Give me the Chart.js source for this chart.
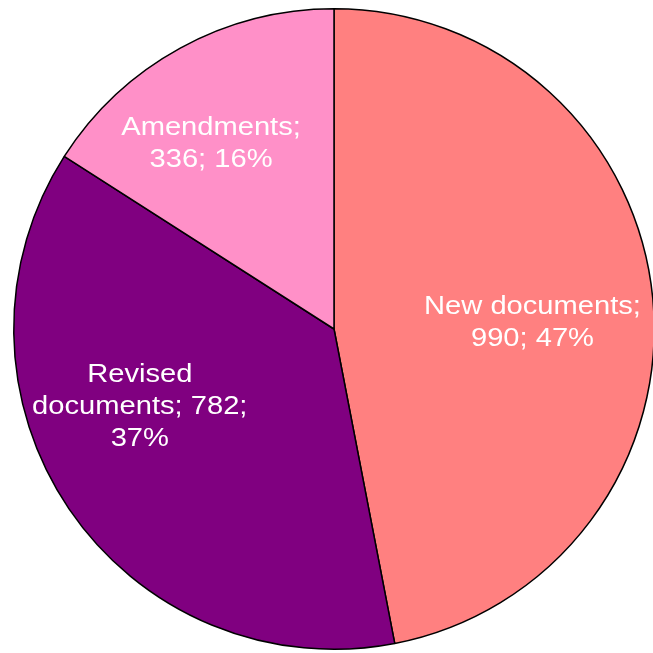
<!DOCTYPE html>
<html>
<head>
<meta charset="utf-8">
<script src="https://cdn.jsdelivr.net/npm/chart.js@4/dist/chart.umd.min.js"></script>
<style>
  html, body { margin: 0; padding: 0; background: #fff; overflow: hidden; }
  #wrap { position: absolute; left: 0; top: 0; width: 670px; height: 660px; }
</style>
</head>
<body>
<div id="wrap"><canvas id="pie" width="670" height="660"></canvas></div>
<script>
// Pie data
const categories = ["New documents", "Revised documents", "Amendments"];
const counts = [990, 782, 336];
const percents = [47, 37, 16];
const sliceColors = ["#FF8080", "#800080", "#FF90C8"];

// label placement: shift from slice mid angle (deg) and fraction of radius
const labelShift = [3.8, 12.4, -4.9];
const labelRadius = [0.62, 0.653, 0.694];

const sliceLabels = {
    id: "sliceLabels",
    afterDatasetsDraw(chart) {
        const ctx = chart.ctx;
        const arcs = chart.getDatasetMeta(0).data;
        const fontSize = 26;
        const stretch = 1.12;
        const lineH = 32;
        const maxWidth = 226;

        ctx.save();
        ctx.font = fontSize + "px 'Liberation Sans', Arial, sans-serif";
        ctx.fillStyle = "#ffffff";
        ctx.textAlign = "center";
        ctx.textBaseline = "middle";

        arcs.forEach((arc, i) => {
            const p = arc.getProps(["x", "y", "startAngle", "endAngle", "outerRadius"], true);
            const mid = (p.startAngle + p.endAngle) / 2 + labelShift[i] * Math.PI / 180;
            const r = p.outerRadius * labelRadius[i];
            const cx = p.x + Math.cos(mid) * r;
            const cy = p.y + Math.sin(mid) * r;

            // greedy wrap
            const words = (categories[i] + "; " + counts[i] + "; " + percents[i] + "%").split(" ");
            const lines = [];
            let cur = "";
            words.forEach((w) => {
                const test = cur ? cur + " " + w : w;
                if (cur && ctx.measureText(test).width * stretch > maxWidth) {
                    lines.push(cur);
                    cur = w;
                } else {
                    cur = test;
                }
            });
            if (cur) lines.push(cur);

            const top = cy - (lines.length - 1) * lineH / 2;
            lines.forEach((line, k) => {
                ctx.save();
                ctx.translate(cx, top + k * lineH);
                ctx.scale(stretch, 1);
                ctx.fillText(line, 0, 0);
                ctx.restore();
            });
        });

        ctx.restore();
    }
};

new Chart(document.getElementById("pie"), {
    type: "pie",
    data: {
        labels: categories,
        datasets: [{
            data: counts,
            backgroundColor: sliceColors,
            borderColor: "#000000",
            borderWidth: 1.5
        }]
    },
    options: {
        responsive: false,
        animation: false,
        layout: { padding: { left: 13, right: 15, top: 8, bottom: 10 } },
        plugins: {
            legend: { display: false },
            tooltip: { enabled: false }
        }
    },
    plugins: [sliceLabels]
});
</script>
</body>
</html>
